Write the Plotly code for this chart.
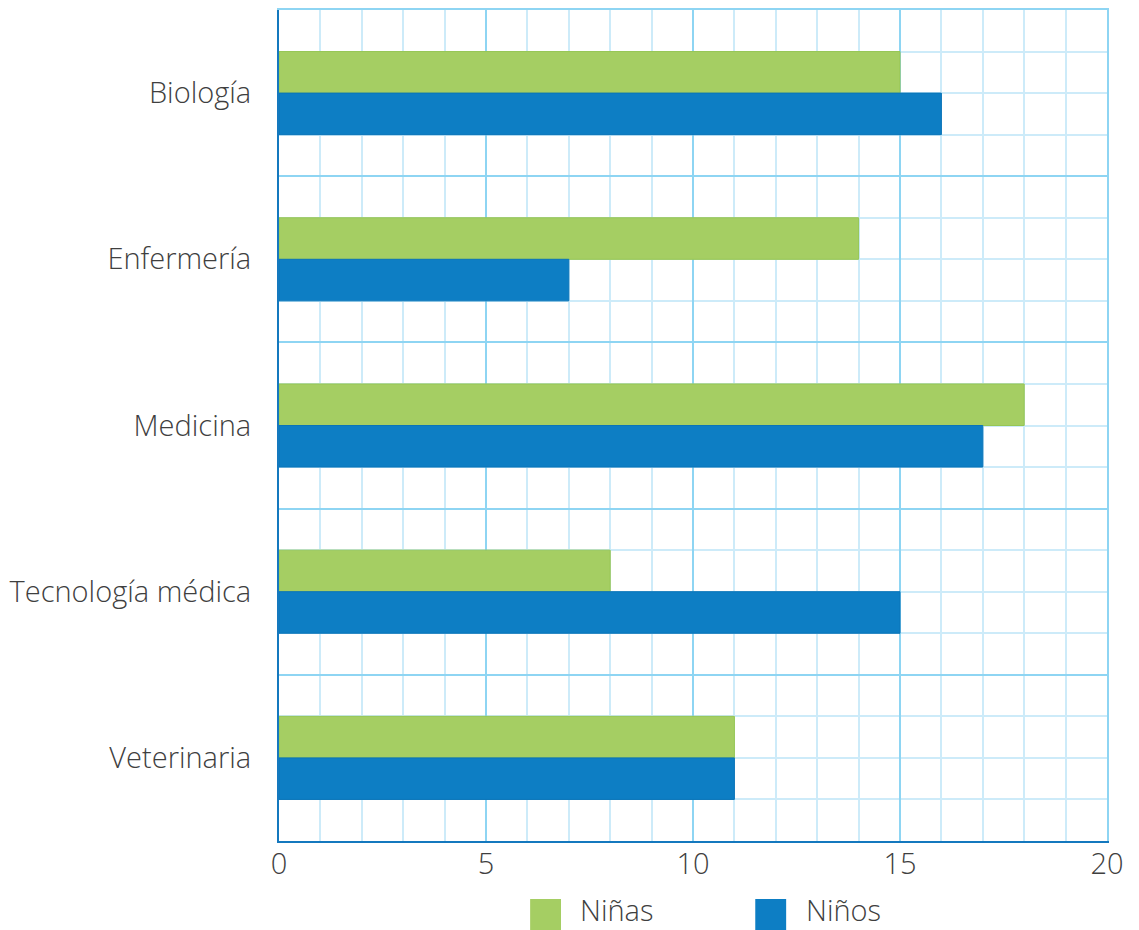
import plotly.graph_objects as go

categories = ["Biología", "Enfermería", "Medicina", "Tecnología médica", "Veterinaria"]
ninas = [15, 14, 18, 8, 11]
ninos = [16, 7, 17, 15, 11]
series_names = ["Niñas", "Niños"]
x_ticks = [0, 5, 10, 15, 20]

GREEN = "#A5CE63"
BLUE = "#0D7EC4"
GRID_MAJOR = "#8ED5F3"
GRID_MINOR = "#CDEBF9"
AXIS_DARK = "#1478BE"
TEXT = "#3F3F3F"
FONT = "Open Sans"
FS = 29

pos = list(range(len(categories)))
n = len(categories)

fig = go.Figure()
fig.add_trace(go.Bar(
    y=pos, x=ninas, orientation="h", name=series_names[0],
    marker=dict(color=GREEN, line=dict(color="#96C653", width=1)),
    showlegend=False,
))
fig.add_trace(go.Bar(
    y=pos, x=ninos, orientation="h", name=series_names[1],
    marker=dict(color=BLUE, line=dict(color="#0A74B8", width=1)),
    showlegend=False,
))

yrange = [n - 0.5, -0.5]

fig.update_layout(
    width=1139, height=930,
    margin=dict(l=268, r=40, t=2, b=97),
    paper_bgcolor="white", plot_bgcolor="white",
    barmode="group", bargap=0.5, bargroupgap=0,
    font=dict(family=FONT, size=FS, color=TEXT),
    xaxis=dict(
        range=[0, 20], tickvals=x_ticks, showgrid=True,
        gridcolor=GRID_MAJOR, gridwidth=2,
        minor=dict(dtick=1, tick0=0, showgrid=True, gridcolor=GRID_MINOR, gridwidth=1.5),
        showline=True, linecolor=AXIS_DARK, linewidth=2,
        zeroline=False, ticks="", ticklabelstandoff=-4,
        tickfont=dict(family=FONT, size=FS, color=TEXT, weight=300),
        layer="below traces",
    ),
    xaxis2=dict(
        range=[0, 20], overlaying="x", side="top", showgrid=False,
        showticklabels=False, showline=True, linecolor=GRID_MAJOR, linewidth=2,
        zeroline=False, ticks="",
    ),
    yaxis=dict(
        range=yrange, tickvals=pos, ticktext=categories, showgrid=False,
        minor=dict(tick0=-0.5, dtick=0.25, showgrid=True, gridcolor=GRID_MINOR, gridwidth=1.5),
        showline=True, linecolor=AXIS_DARK, linewidth=2,
        zeroline=False, ticks="", ticklabelstandoff=20,
        tickfont=dict(family=FONT, size=FS, color=TEXT, weight=300),
    ),
    yaxis2=dict(
        range=yrange, overlaying="y", side="right",
        tickvals=[i - 0.5 for i in range(n + 1)], showticklabels=False,
        showgrid=True, gridcolor=GRID_MAJOR, gridwidth=2,
        showline=True, linecolor=GRID_MAJOR, linewidth=2,
        zeroline=False, ticks="",
    ),
)

# dummy trace to activate overlay axes
fig.add_trace(go.Scatter(x=[None], y=[None], xaxis="x2", yaxis="y2", showlegend=False, hoverinfo="skip"))

# custom legend (large swatches)
legend_items = [(series_names[0], GREEN, 0.3033), (series_names[1], BLUE, 0.5752)]
sw = 31 / 831
for name, color, x0 in legend_items:
    fig.add_shape(type="rect", xref="paper", yref="paper",
                  x0=x0, x1=x0 + sw, y0=-0.0698, y1=-0.0698 - sw,
                  fillcolor=color, line=dict(width=0))
    fig.add_annotation(xref="paper", yref="paper", x=x0 + sw + 0.021, y=-0.0830,
                       text=name, showarrow=False, xanchor="left", yanchor="middle",
                       font=dict(family=FONT, size=FS, color=TEXT, weight=300))

fig.write_html("out.html")
